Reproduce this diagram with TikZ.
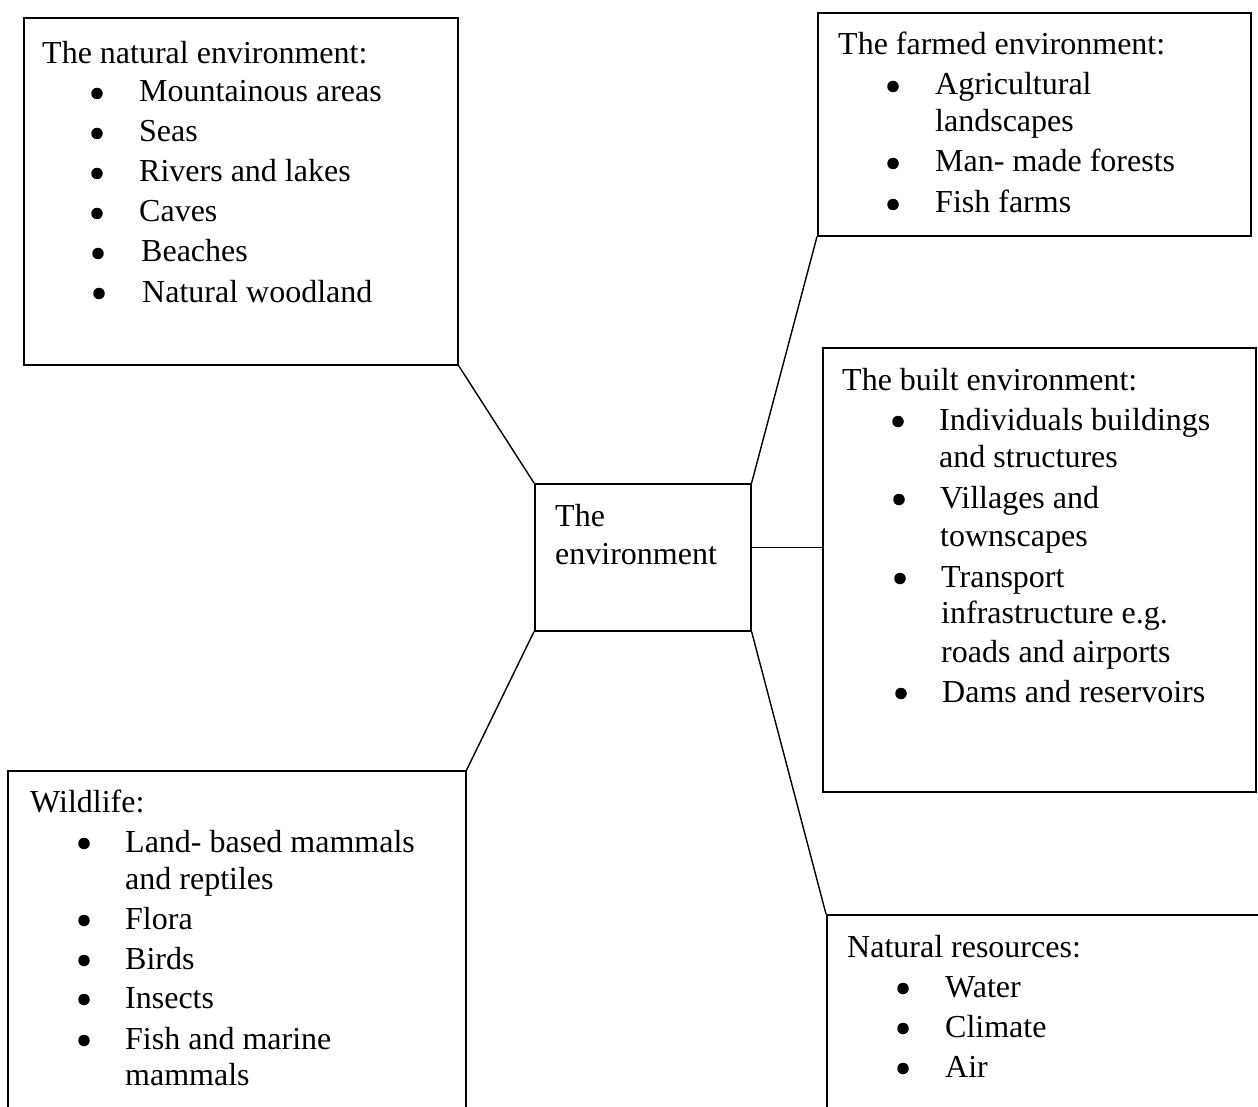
\documentclass[tikz,border=0pt]{standalone}
\usepackage{fontspec}
\setmainfont{Liberation Serif}
\begin{document}
\begin{tikzpicture}[x=1pt, y=-1pt]
	\tikzset{box/.style={rectangle, draw=black, line width=1.6pt, anchor=north west, inner sep=0pt},
		txt/.style={anchor=base west, inner sep=0pt, yshift=-2pt, font=\fontsize{32}{38}\selectfont},
		blt/.style={circle, fill=black, inner sep=0pt, minimum size=11.5pt, yshift=6.5pt},
		link/.style={line width=1.4pt}};

	\clip (0,0) rectangle (1258,1107);

	% boxes
	\node[box, minimum width=434pt, minimum height=347pt] (nat) at (23,17) {};
	\node[box, minimum width=433pt, minimum height=223pt] (farm) at (817,12) {};
	\node[box, minimum width=433pt, minimum height=444pt] (built) at (822,347) {};
	\node[box, minimum width=216pt, minimum height=147pt] (ctr) at (534,483) {};
	\node[box, minimum width=458pt, minimum height=360pt] (wild) at (7,770) {};
	\node[box, minimum width=440pt, minimum height=220pt] (res) at (826,914) {};

	% connectors
	\draw[link] (nat.south east) to (ctr.north west);
	\draw[link] (farm.south west) to (ctr.north east);
	\draw[link] ([yshift=10pt]ctr.east) to ([yshift=10pt]ctr.east -| built.west);
	\draw[link] (ctr.south west) to (wild.north east);
	\draw[link] (ctr.south east) to (res.north west);

	% centre
	\node[txt] (c1) at (555,524) {The};
	\node[txt] (c2) at (555,562) {environment};

	% natural environment
	\node[txt] (n0) at (42,62) {The natural environment:};
	\node[blt] (nb1) at (97,100) {};
	\node[txt] (n1) at (139,100) {Mountainous areas};
	\node[blt] (nb2) at (97,140) {};
	\node[txt] (n2) at (139,140) {Seas};
	\node[blt] (nb3) at (97,180) {};
	\node[txt] (n3) at (139,180) {Rivers and lakes};
	\node[blt] (nb4) at (97,220) {};
	\node[txt] (n4) at (139,220) {Caves};
	\node[blt] (nb5) at (98,260) {};
	\node[txt] (n5) at (141,260) {Beaches};
	\node[blt] (nb6) at (99,300) {};
	\node[txt] (n6) at (142,300) {Natural woodland};

	% farmed environment
	\node[txt] (f0) at (838,53) {The farmed environment:};
	\node[blt] (fb1) at (893,93) {};
	\node[txt] (f1) at (935,93) {Agricultural};
	\node[txt] (f1b) at (935,130) {landscapes};
	\node[blt] (fb2) at (893,170) {};
	\node[txt] (f2) at (935,170) {Man- made forests};
	\node[blt] (fb3) at (893,211) {};
	\node[txt] (f3) at (935,211) {Fish farms};

	% built environment
	\node[txt] (b0) at (842,388) {The built environment:};
	\node[blt] (bb1) at (898,428) {};
	\node[txt] (b1) at (939,428) {Individuals buildings};
	\node[txt] (b1b) at (939,465) {and structures};
	\node[blt] (bb2) at (899,506) {};
	\node[txt] (b2) at (940,506) {Villages and};
	\node[txt] (b2b) at (940,544) {townscapes};
	\node[blt] (bb3) at (900,585) {};
	\node[txt] (b3) at (941,585) {Transport};
	\node[txt] (b3b) at (941,621) {infrastructure e.g.};
	\node[txt] (b3c) at (941,660) {roads and airports};
	\node[blt] (bb4) at (901,700) {};
	\node[txt] (b4) at (942,700) {Dams and reservoirs};

	% wildlife
	\node[txt] (w0) at (30,810) {Wildlife:};
	\node[blt] (wb1) at (84,850) {};
	\node[txt] (w1) at (125,850) {Land- based mammals};
	\node[txt] (w1b) at (125,887) {and reptiles};
	\node[blt] (wb2) at (84,927) {};
	\node[txt] (w2) at (125,927) {Flora};
	\node[blt] (wb3) at (84,967) {};
	\node[txt] (w3) at (125,967) {Birds};
	\node[blt] (wb4) at (84,1006) {};
	\node[txt] (w4) at (125,1006) {Insects};
	\node[blt] (wb5) at (84,1047) {};
	\node[txt] (w5) at (125,1047) {Fish and marine};
	\node[txt] (w5b) at (125,1083) {mammals};

	% natural resources
	\node[txt] (r0) at (847,955) {Natural resources:};
	\node[blt] (rb1) at (903,995) {};
	\node[txt] (r1) at (945,995) {Water};
	\node[blt] (rb2) at (903,1035) {};
	\node[txt] (r2) at (945,1035) {Climate};
	\node[blt] (rb3) at (903,1075) {};
	\node[txt] (r3) at (945,1075) {Air};
\end{tikzpicture}
\end{document}
